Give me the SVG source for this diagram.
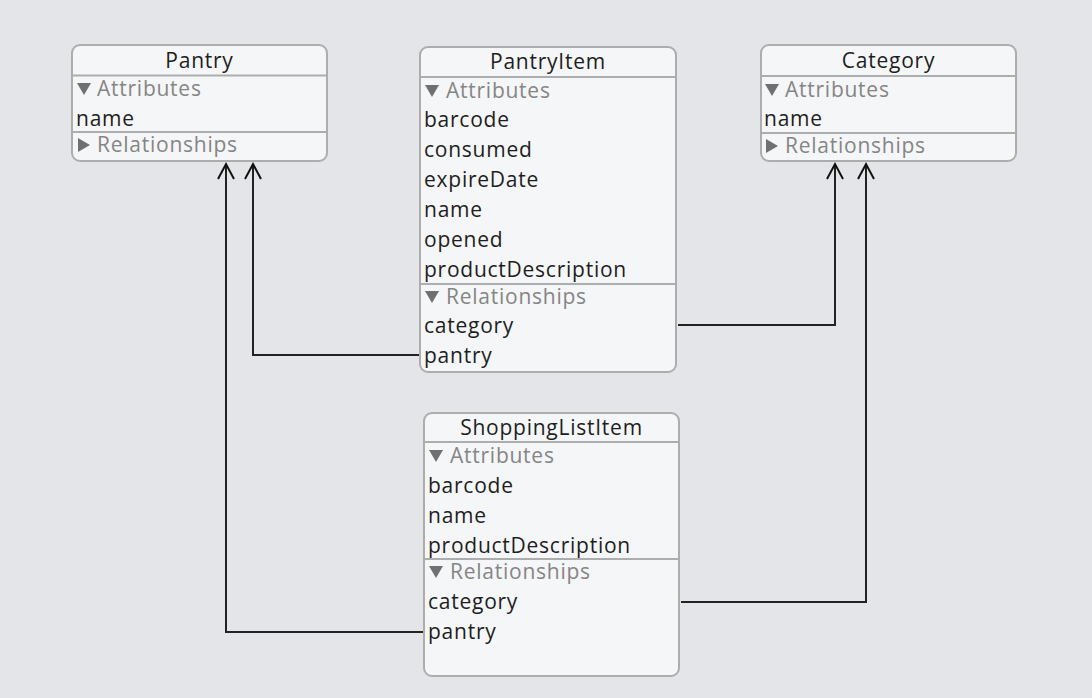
<svg xmlns="http://www.w3.org/2000/svg" width="1092" height="698" viewBox="0 0 1092 698">
<defs>
<style>
.box{fill:#f5f6f7;stroke:#adadad;stroke-width:2}
.sep{stroke:#adadad;stroke-width:2}
text{font-family:"Open Sans","Liberation Sans",sans-serif;font-size:21px;letter-spacing:0.75px}
.t{fill:#1e1e1e;text-anchor:middle}
.a{fill:#1e1e1e}
.h{fill:#858585}
.tri{fill:#707070}
.con{fill:none;stroke:#222;stroke-width:2}
.ah{fill:none;stroke:#111;stroke-width:2}
</style>
</defs>
<rect width="1092" height="698" fill="#e4e5e8"/>
<g id="connectors">
<polyline class="con" points="420,355 253,355 253,164"/>
<polyline class="ah" points="245,179 253,164 261,179"/>
<polyline class="con" points="424,632 226,632 226,164"/>
<polyline class="ah" points="218,179 226,164 234,179"/>
<polyline class="con" points="678,325 835,325 835,164"/>
<polyline class="ah" points="827,179 835,164 843,179"/>
<polyline class="con" points="681,602 866,602 866,164"/>
<polyline class="ah" points="858,179 866,164 874,179"/>
</g>
<g id="Pantry">
<rect class="box" x="72" y="45" width="255" height="116" rx="8"/>
<line class="sep" x1="72" y1="75.5" x2="327" y2="75.5"/>
<line class="sep" x1="72" y1="132" x2="327" y2="132"/>
<text class="t" x="199.5" y="68">Pantry</text>
<path class="tri" d="M77,83 L91,83 L84,95 Z"/>
<text class="h" x="97" y="96">Attributes</text>
<text class="a" x="76" y="126">name</text>
<path class="tri" d="M78,138 L90,145 L78,152 Z"/>
<text class="h" x="97" y="152">Relationships</text>
</g>
<g id="PantryItem">
<rect class="box" x="420" y="47" width="256" height="325" rx="8"/>
<line class="sep" x1="420" y1="77" x2="676" y2="77"/>
<line class="sep" x1="420" y1="284" x2="676" y2="284"/>
<text class="t" x="548" y="69">PantryItem</text>
<path class="tri" d="M425,85 L439,85 L432,97 Z"/>
<text class="h" x="446" y="98">Attributes</text>
<text class="a" x="424" y="127">barcode</text>
<text class="a" x="424" y="157">consumed</text>
<text class="a" x="424" y="187">expireDate</text>
<text class="a" x="424" y="217">name</text>
<text class="a" x="424" y="247">opened</text>
<text class="a" x="424" y="277">productDescription</text>
<path class="tri" d="M425,291 L439,291 L432,303 Z"/>
<text class="h" x="446" y="304">Relationships</text>
<text class="a" x="424" y="333">category</text>
<text class="a" x="424" y="363">pantry</text>
</g>
<g id="Category">
<rect class="box" x="761" y="45" width="255" height="116" rx="8"/>
<line class="sep" x1="761" y1="76" x2="1016" y2="76"/>
<line class="sep" x1="761" y1="133" x2="1016" y2="133"/>
<text class="t" x="888.5" y="68">Category</text>
<path class="tri" d="M765,84 L779,84 L772,96 Z"/>
<text class="h" x="785" y="97">Attributes</text>
<text class="a" x="764" y="126">name</text>
<path class="tri" d="M766,139 L778,146 L766,153 Z"/>
<text class="h" x="785" y="153">Relationships</text>
</g>
<g id="ShoppingListItem">
<rect class="box" x="424" y="413" width="255" height="263" rx="8"/>
<line class="sep" x1="424" y1="442" x2="679" y2="442"/>
<line class="sep" x1="424" y1="559" x2="679" y2="559"/>
<text class="t" x="551.5" y="435">ShoppingListItem</text>
<path class="tri" d="M429,450 L443,450 L436,462 Z"/>
<text class="h" x="450" y="463">Attributes</text>
<text class="a" x="428" y="493">barcode</text>
<text class="a" x="428" y="523">name</text>
<text class="a" x="428" y="553">productDescription</text>
<path class="tri" d="M429,566 L443,566 L436,578 Z"/>
<text class="h" x="450" y="579">Relationships</text>
<text class="a" x="428" y="609">category</text>
<text class="a" x="428" y="639">pantry</text>
</g>
</svg>
